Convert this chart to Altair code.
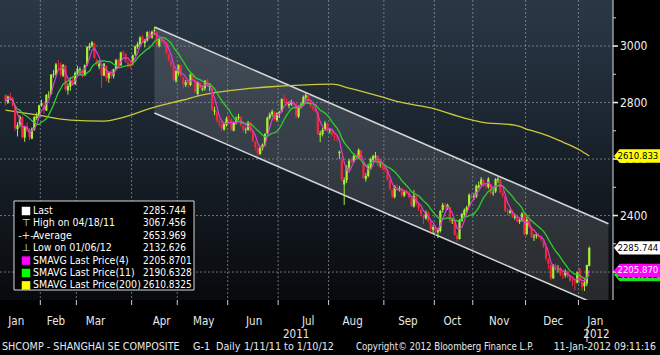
import altair as alt
import pandas as pd

# ---------------- data ----------------
# daily OHLC, trading days 11 Jan 2011 .. 10 Jan 2012, grouped by month
O_m = [
    [2826, 2800, 2822, 2815, 2786, 2706, 2722, 2748, 2676, 2716, 2700, 2673, 2705, 2745, 2753],
    [2790, 2790, 2772, 2826, 2830, 2897, 2900, 2937, 2934, 2895, 2930, 2843, 2857, 2879, 2866],
    [2905, 2916, 2913, 2896, 2936, 2993, 3002, 3010, 2950, 2927, 2926, 2895, 2930, 2885, 2905, 2893, 2920, 2952, 2932, 2978, 2972, 2942, 2937],
    [2940, 2970, 2997, 3006, 3032, 3010, 3020, 3048, 3030, 3055, 3050, 3000, 3027, 3018, 3010, 2970, 2948, 2929, 2877],
    [2905, 2930, 2888, 2862, 2870, 2862, 2897, 2880, 2830, 2868, 2846, 2850, 2878, 2855, 2850, 2768, 2765, 2735, 2725, 2705, 2722],
    [2745, 2740, 2700, 2728, 2745, 2748, 2718, 2703, 2703, 2728, 2698, 2660, 2640, 2618, 2638, 2650, 2690, 2745, 2758, 2765, 2738],
    [2760, 2768, 2812, 2805, 2790, 2793, 2800, 2795, 2750, 2788, 2790, 2818, 2825, 2800, 2786, 2778, 2765, 2685, 2688, 2705, 2725],
    [2700, 2700, 2680, 2675, 2620, 2600, 2510, 2525, 2570, 2596, 2590, 2612, 2605, 2630, 2585, 2530, 2540, 2570, 2598, 2605, 2610, 2578, 2582],
    [2570, 2560, 2525, 2490, 2465, 2500, 2490, 2495, 2470, 2485, 2480, 2462, 2432, 2468, 2440, 2420, 2400, 2390, 2410, 2378, 2350],
    [2358, 2340, 2345, 2420, 2435, 2428, 2430, 2380, 2380, 2330, 2317, 2382, 2402, 2418, 2432, 2470],
    [2465, 2468, 2500, 2510, 2525, 2508, 2500, 2510, 2478, 2485, 2525, 2528, 2480, 2468, 2415, 2410, 2415, 2392, 2395, 2378, 2385, 2405],
    [2335, 2385, 2358, 2322, 2328, 2330, 2322, 2310, 2288, 2245, 2225, 2178, 2222, 2215, 2212, 2190, 2188, 2200, 2185, 2170, 2165, 2162],
    [2212, 2165, 2150, 2160, 2222],
]
H_m = [
    [2830, 2825, 2835, 2820, 2790, 2730, 2755, 2752, 2718, 2730, 2710, 2712, 2752, 2765, 2792],
    [2810, 2800, 2830, 2840, 2900, 2915, 2940, 2950, 2942, 2936, 2932, 2868, 2890, 2890, 2910],
    [2930, 2925, 2918, 2935, 3000, 3011, 3018, 3013, 2955, 2945, 2930, 2940, 2932, 2910, 2915, 2920, 2955, 2955, 2980, 2985, 2975, 2950, 2945],
    [2970, 3002, 3015, 3035, 3040, 3025, 3052, 3055, 3055, 3067.456, 3052, 3027, 3035, 3025, 3015, 2975, 2955, 2935, 2915],
    [2935, 2935, 2892, 2880, 2880, 2902, 2900, 2885, 2875, 2875, 2860, 2880, 2885, 2868, 2852, 2785, 2770, 2745, 2735, 2730, 2750],
    [2755, 2745, 2732, 2750, 2760, 2752, 2720, 2712, 2735, 2732, 2700, 2665, 2645, 2645, 2655, 2692, 2750, 2765, 2775, 2770, 2765],
    [2770, 2815, 2828, 2815, 2800, 2810, 2805, 2800, 2790, 2800, 2825, 2835, 2830, 2805, 2792, 2785, 2768, 2700, 2710, 2735, 2730],
    [2710, 2705, 2690, 2685, 2630, 2610, 2535, 2578, 2600, 2605, 2620, 2618, 2638, 2632, 2590, 2550, 2578, 2605, 2615, 2625, 2612, 2592, 2590],
    [2580, 2565, 2530, 2495, 2508, 2510, 2505, 2498, 2490, 2492, 2486, 2468, 2490, 2470, 2445, 2425, 2405, 2418, 2415, 2382, 2368],
    [2365, 2355, 2420, 2445, 2445, 2442, 2432, 2392, 2385, 2340, 2388, 2410, 2425, 2435, 2478, 2480],
    [2480, 2510, 2520, 2536, 2530, 2515, 2536, 2512, 2492, 2532, 2537, 2530, 2490, 2472, 2425, 2422, 2420, 2405, 2400, 2392, 2412, 2410],
    [2395, 2390, 2362, 2335, 2340, 2338, 2330, 2315, 2292, 2250, 2230, 2228, 2230, 2225, 2218, 2205, 2210, 2205, 2190, 2180, 2172, 2202],
    [2215, 2185, 2175, 2226, 2290],
]
L_m = [
    [2790, 2795, 2805, 2785, 2700, 2680, 2712, 2672, 2661, 2695, 2667, 2670, 2700, 2737, 2748],
    [2785, 2760, 2770, 2815, 2828, 2888, 2895, 2920, 2890, 2890, 2840, 2828, 2842, 2860, 2862],
    [2900, 2895, 2888, 2893, 2930, 2985, 2995, 2955, 2930, 2918, 2853, 2893, 2875, 2870, 2885, 2885, 2915, 2925, 2930, 2962, 2940, 2925, 2920],
    [2932, 2965, 2990, 3000, 3015, 2995, 3015, 3025, 3025, 3040, 3000, 2995, 3010, 3002, 2970, 2945, 2925, 2875, 2870],
    [2895, 2890, 2850, 2855, 2852, 2858, 2880, 2835, 2825, 2850, 2840, 2842, 2855, 2840, 2770, 2755, 2730, 2715, 2700, 2700, 2715],
    [2725, 2700, 2698, 2722, 2738, 2715, 2695, 2690, 2700, 2695, 2660, 2630, 2610, 2615, 2630, 2645, 2688, 2740, 2750, 2735, 2732],
    [2745, 2765, 2800, 2790, 2780, 2788, 2780, 2745, 2745, 2778, 2788, 2810, 2798, 2780, 2770, 2765, 2685, 2660, 2680, 2700, 2695],
    [2690, 2680, 2665, 2662, 2600, 2520, 2437, 2515, 2560, 2585, 2588, 2598, 2600, 2595, 2530, 2520, 2535, 2565, 2590, 2600, 2575, 2570, 2560],
    [2555, 2522, 2488, 2460, 2460, 2490, 2485, 2465, 2465, 2475, 2460, 2430, 2428, 2435, 2415, 2398, 2370, 2385, 2375, 2340, 2335],
    [2330, 2320, 2340, 2410, 2420, 2420, 2375, 2370, 2328, 2307, 2315, 2378, 2395, 2410, 2430, 2460],
    [2455, 2462, 2495, 2505, 2500, 2495, 2495, 2475, 2470, 2480, 2515, 2478, 2462, 2412, 2400, 2405, 2392, 2385, 2375, 2370, 2378, 2330],
    [2330, 2355, 2320, 2310, 2318, 2318, 2308, 2285, 2240, 2210, 2172, 2175, 2205, 2198, 2185, 2175, 2180, 2180, 2165, 2150, 2135, 2160],
    [2160, 2135, 2132.626, 2150, 2220],
]
C_m = [
    [2805, 2821, 2817, 2791, 2708, 2720, 2750, 2678, 2715, 2702, 2677, 2707, 2749, 2752, 2790],
    [2798, 2775, 2827, 2828, 2899, 2900, 2935, 2936, 2899, 2934, 2848, 2858, 2879, 2871, 2905],
    [2918, 2919, 2899, 2932, 2996, 3002, 3013, 2958, 2937, 2938, 2897, 2938, 2887, 2906, 2895, 2918, 2950, 2930, 2977, 2976, 2945, 2935, 2928],
    [2967, 2999, 3007, 3030, 3022, 3021, 3050, 3033, 3051, 3057, 3007, 3024, 3016, 3014, 2976, 2951, 2932, 2881, 2911],
    [2932, 2895, 2866, 2872, 2866, 2900, 2887, 2837, 2871, 2853, 2850, 2877, 2860, 2859, 2774, 2772, 2736, 2728, 2709, 2724, 2743],
    [2743, 2705, 2728, 2743, 2750, 2720, 2705, 2705, 2730, 2700, 2664, 2643, 2621, 2640, 2651, 2688, 2746, 2758, 2768, 2740, 2762],
    [2767, 2812, 2808, 2797, 2795, 2803, 2797, 2754, 2787, 2793, 2820, 2826, 2802, 2788, 2780, 2771, 2689, 2690, 2703, 2727, 2701],
    [2703, 2686, 2678, 2674, 2626, 2527, 2526, 2570, 2594, 2593, 2611, 2607, 2632, 2600, 2534, 2540, 2574, 2600, 2610, 2612, 2580, 2580, 2567],
    [2564, 2528, 2495, 2468, 2503, 2497, 2497, 2473, 2484, 2482, 2466, 2434, 2470, 2442, 2425, 2405, 2392, 2412, 2380, 2352, 2359],
    [2344, 2348, 2416, 2438, 2431, 2438, 2382, 2383, 2332, 2317, 2383, 2405, 2420, 2429, 2473, 2468],
    [2470, 2505, 2507, 2528, 2509, 2503, 2530, 2480, 2481, 2529, 2529, 2483, 2471, 2417, 2412, 2417, 2396, 2397, 2380, 2384, 2407, 2333],
    [2386, 2361, 2325, 2326, 2333, 2325, 2315, 2291, 2248, 2228, 2180, 2224, 2218, 2215, 2191, 2189, 2204, 2186, 2170, 2168, 2163, 2199],
    [2169, 2148, 2163, 2225, 2285.744],
]

# 200-day simple moving average (yellow), read at points along the line
sma200_i = [0, 13, 27, 41, 48, 61, 74, 82, 95, 109, 123, 136, 143, 157, 164, 177, 191, 198, 212, 218, 225, 232, 239, 243]
sma200_v = [2773, 2756, 2738, 2734, 2745, 2781, 2809, 2827, 2844, 2855, 2862, 2865, 2851, 2819, 2802, 2781, 2745, 2731, 2720, 2703, 2685, 2660, 2632, 2611]

# trend channel (start at the 18 Apr high, runs off the right edge)
chan_i = [62, 251]
chan_hi = [3067.456, 2371]
chan_lo = [2763, 2067]

# axes
month_bounds = [14.5, 29.5, 52.5, 71.5, 92.5, 113.5, 134.5, 157.5, 178.5, 194.5, 216.5, 238.5]
month_labels = ["Jan", "Feb", "Mar", "Apr", "May", "Jun", "Jul", "Aug", "Sep", "Oct", "Nov", "Dec", "Jan"]
month_label_pos = [4.5, 21, 37.5, 65, 82.5, 103.5, 126, 144.5, 167.5, 186, 205.5, 228, 245.5]
year_labels = ["2011", "2012"]
year_label_pos = [121, 246]
price_major = [3000, 2800, 2600, 2400, 2200]
price_labels = ["3000", "2800", "2600", "2400", "2200"]
price_minor = [3100, 2900, 2700, 2500, 2300]

# legend
leg_labels = ["Last", "High on 04/18/11", "Average", "Low on 01/06/12",
              "SMAVG Last Price(4)", "SMAVG Last Price(11)", "SMAVG Last Price(200)"]
leg_values = ["2285.744", "3067.456", "2653.969", "2132.626", "2205.8701", "2190.6328", "2610.8325"]

# right-edge value flags (drawn bottom to top)
flag_vals = [2190.633, 2205.870, 2285.744, 2610.833]
flag_text = ["2190.633", "2205.870", "2285.744", "2610.833"]
flag_fill = ["#22dd22", "#ff00ff", "#ffffff", "#ffff00"]
flag_tcol = ["#000000", "#ffffff", "#000000", "#000000"]

# footer
footer_text = ["SHCOMP - SHANGHAI SE COMPOSITE", "G-1", "Daily", "1/11/11 to 1/10/12",
               "Copyright\u00a9 2012 Bloomberg Finance L.P.", "11-Jan-2012 09:11:16"]

# ---------------- styling ----------------
FONT = "Liberation Sans Narrow, DejaVu Sans Condensed, Arial Narrow, sans-serif"
UP = "#a8ee3a"
DN = "#f0283c"
MAG = "#e03cd2"
GRN = "#2ccf2c"
YEL = "#cfc83a"
W, H = 613, 300

opens = sum(O_m, [])
highs = sum(H_m, [])
lows = sum(L_m, [])
closes = sum(C_m, [])
df = pd.DataFrame({"i": list(range(len(closes))), "o": opens, "h": highs, "l": lows, "c": closes})

XS = alt.Scale(domain=[-0.2, 250.8], nice=False, zero=False)
YS = alt.Scale(domain=[2101, 3163], nice=False, zero=False)
one = pd.DataFrame({"a": [0]})


def X(f):
    return alt.X(f, scale=XS, axis=None)


def Y(f):
    return alt.Y(f, scale=YS, axis=None)


layers = []

# plot background gradient
layers.append(alt.Chart(one).mark_rect(
    color=alt.Gradient(gradient="linear",
                       stops=[alt.GradientStop(color="#2a3846", offset=0),
                              alt.GradientStop(color="#1a242e", offset=0.45),
                              alt.GradientStop(color="#080a0d", offset=1)],
                       x1=0, x2=0, y1=0, y2=1)
).encode(x=alt.value(0), x2=alt.value(W), y=alt.value(0), y2=alt.value(H)))

# channel fill
chan = pd.DataFrame({"i": chan_i, "hi": chan_hi, "lo": chan_lo})
layers.append(alt.Chart(chan).mark_area(color="white", opacity=0.13, clip=True)
              .encode(x=X("i:Q"), y=Y("lo:Q"), y2="hi:Q"))

# grid lines
bounds_df = pd.DataFrame({"b": month_bounds})
layers.append(alt.Chart(bounds_df).mark_rule(color="#8a929b", strokeDash=[2, 2], strokeWidth=1, opacity=0.75)
              .encode(x=X("b:Q"), y=alt.value(0), y2=alt.value(H)))
major_df = pd.DataFrame({"p": price_major, "t": price_labels})
layers.append(alt.Chart(major_df).mark_rule(color="#8a929b", strokeDash=[2, 2], strokeWidth=1, opacity=0.75)
              .encode(y=Y("p:Q"), x=alt.value(0), x2=alt.value(W)))

# channel edges
for fld in ["hi", "lo"]:
    layers.append(alt.Chart(chan).mark_line(color="#d6d6d6", strokeWidth=1.5, clip=True)
                  .encode(x=X("i:Q"), y=Y(f"{fld}:Q")))

# 200-day moving average
layers.append(alt.Chart(pd.DataFrame({"i": sma200_i, "v": sma200_v}))
              .mark_line(color=YEL, strokeWidth=1.3, interpolate="monotone")
              .encode(x=X("i:Q"), y=Y("v:Q")))

# candles
ccol = alt.condition("datum.c >= datum.o", alt.value(UP), alt.value(DN))
layers.append(alt.Chart(df).mark_rule(strokeWidth=1).encode(x=X("i:Q"), y=Y("l:Q"), y2="h:Q", color=ccol))
layers.append(alt.Chart(df).mark_bar(size=2.2).encode(x=X("i:Q"), y=Y("o:Q"), y2="c:Q", color=ccol))

# short moving averages
layers.append(alt.Chart(df).transform_window(sma11="mean(c)", frame=[-10, 0], sort=[alt.SortField("i")])
              .mark_line(color=GRN, strokeWidth=1.3).encode(x=X("i:Q"), y=Y("sma11:Q")))
layers.append(alt.Chart(df).transform_window(sma4="mean(c)", frame=[-3, 0], sort=[alt.SortField("i")])
              .mark_line(color=MAG, strokeWidth=1.2).encode(x=X("i:Q"), y=Y("sma4:Q")))

# price axis (right): domain line, ticks, labels
layers.append(alt.Chart(one).mark_rule(color="#bdbdbd", strokeWidth=1.2)
              .encode(x=alt.value(W), y=alt.value(0), y2=alt.value(H)))
layers.append(alt.Chart(major_df).mark_rule(color="#e6e6e6", strokeWidth=1.6)
              .encode(y=Y("p:Q"), x=alt.value(W), x2=alt.value(W + 5)))
layers.append(alt.Chart(pd.DataFrame({"p": price_minor})).mark_rule(color="#d0d0d0", strokeWidth=1)
              .encode(y=Y("p:Q"), x=alt.value(W), x2=alt.value(W + 3)))
layers.append(alt.Chart(major_df).mark_text(align="left", baseline="middle", fontSize=12, font=FONT,
                                            color="#f0f0f0")
              .encode(y=Y("p:Q"), x=alt.value(W + 7), text="t:N"))
# time axis ticks at month boundaries
layers.append(alt.Chart(bounds_df).mark_rule(color="#cfcfcf", strokeWidth=1)
              .encode(x=X("b:Q"), y=alt.value(H), y2=alt.value(H + 5)))

# legend box
layers.append(alt.Chart(one).mark_rect(fill="black", stroke="#d8d8d8", strokeWidth=1)
              .encode(x=alt.value(14), x2=alt.value(194), y=alt.value(201), y2=alt.value(290)))
icon_colors = ["#ffffff", None, None, None, "#ff00ff", "#00ff00", "#ffff00"]
icon_glyphs = [None, "\u22a4", "-+-", "\u22a5", None, None, None]
for k in range(len(leg_labels)):
    yy = 211 + 12.4 * k
    if icon_colors[k]:
        layers.append(alt.Chart(one).mark_square(size=72, filled=True, opacity=1, color=icon_colors[k])
                      .encode(x=alt.value(26), y=alt.value(yy)))
    else:
        layers.append(alt.Chart(one).mark_text(text=icon_glyphs[k], fontSize=10, color="#e0e0e0",
                                               font="DejaVu Sans", align="center", baseline="middle")
                      .encode(x=alt.value(26), y=alt.value(yy)))
    layers.append(alt.Chart(one).mark_text(text=leg_labels[k], fontSize=10.5, color="white", font=FONT,
                                           align="left", baseline="middle")
                  .encode(x=alt.value(33), y=alt.value(yy)))
    layers.append(alt.Chart(one).mark_text(text=leg_values[k], fontSize=10, color="white", font=FONT,
                                           align="left", baseline="middle")
                  .encode(x=alt.value(143), y=alt.value(yy)))

# value flags on the right
FLAG = "M-1,0 L-0.76,-0.29 L1,-0.29 L1,0.29 L-0.76,0.29 Z"
for v, t, fc, tc in zip(flag_vals, flag_text, flag_fill, flag_tcol):
    fd = pd.DataFrame({"v": [v], "t": [t]})
    layers.append(alt.Chart(fd).mark_point(shape=FLAG, size=2116, filled=True, opacity=1,
                                           strokeWidth=0, color=fc)
                  .encode(x=alt.value(637), y=Y("v:Q")))
    layers.append(alt.Chart(fd).mark_text(align="left", baseline="middle", fontSize=9.5, font=FONT, color=tc)
                  .encode(x=alt.value(617.5), y=Y("v:Q"), text="t:N"))

# month and year labels
layers.append(alt.Chart(pd.DataFrame({"p": month_label_pos, "t": month_labels}))
              .mark_text(fontSize=11.5, font=FONT, color="#e8e8e8", baseline="middle")
              .encode(x=X("p:Q"), y=alt.value(322), text="t:N"))
layers.append(alt.Chart(pd.DataFrame({"p": year_label_pos, "t": year_labels}))
              .mark_text(fontSize=11.5, font=FONT, color="#e8e8e8", baseline="middle")
              .encode(x=X("p:Q"), y=alt.value(335), text="t:N"))
layers.append(alt.Chart(one).mark_rule(color="#e8e8e8", strokeWidth=1)
              .encode(x=alt.value(587), y=alt.value(328), y2=alt.value(342)))

# footer
footer_x = [2, 193, 216, 244, 356, 656]
footer_align = ["left", "left", "left", "left", "left", "right"]
footer_size = [10.7, 10.7, 10.7, 10.7, 9.6, 10.4]
for t, xx, al, fs in zip(footer_text, footer_x, footer_align, footer_size):
    layers.append(alt.Chart(one).mark_text(text=t, fontSize=fs, font=FONT, color="#e8e8e8",
                                           align=al, baseline="middle")
                  .encode(x=alt.value(xx), y=alt.value(347)))

chart = alt.layer(*layers).properties(
    width=W, height=H,
    autosize=alt.AutoSizeParams(type="none"),
    padding={"left": 0, "top": 0, "right": 47, "bottom": 55},
    background="black",
).configure_view(strokeWidth=0)

chart.save("out.html", embed_options={"renderer": "svg", "actions": False})
